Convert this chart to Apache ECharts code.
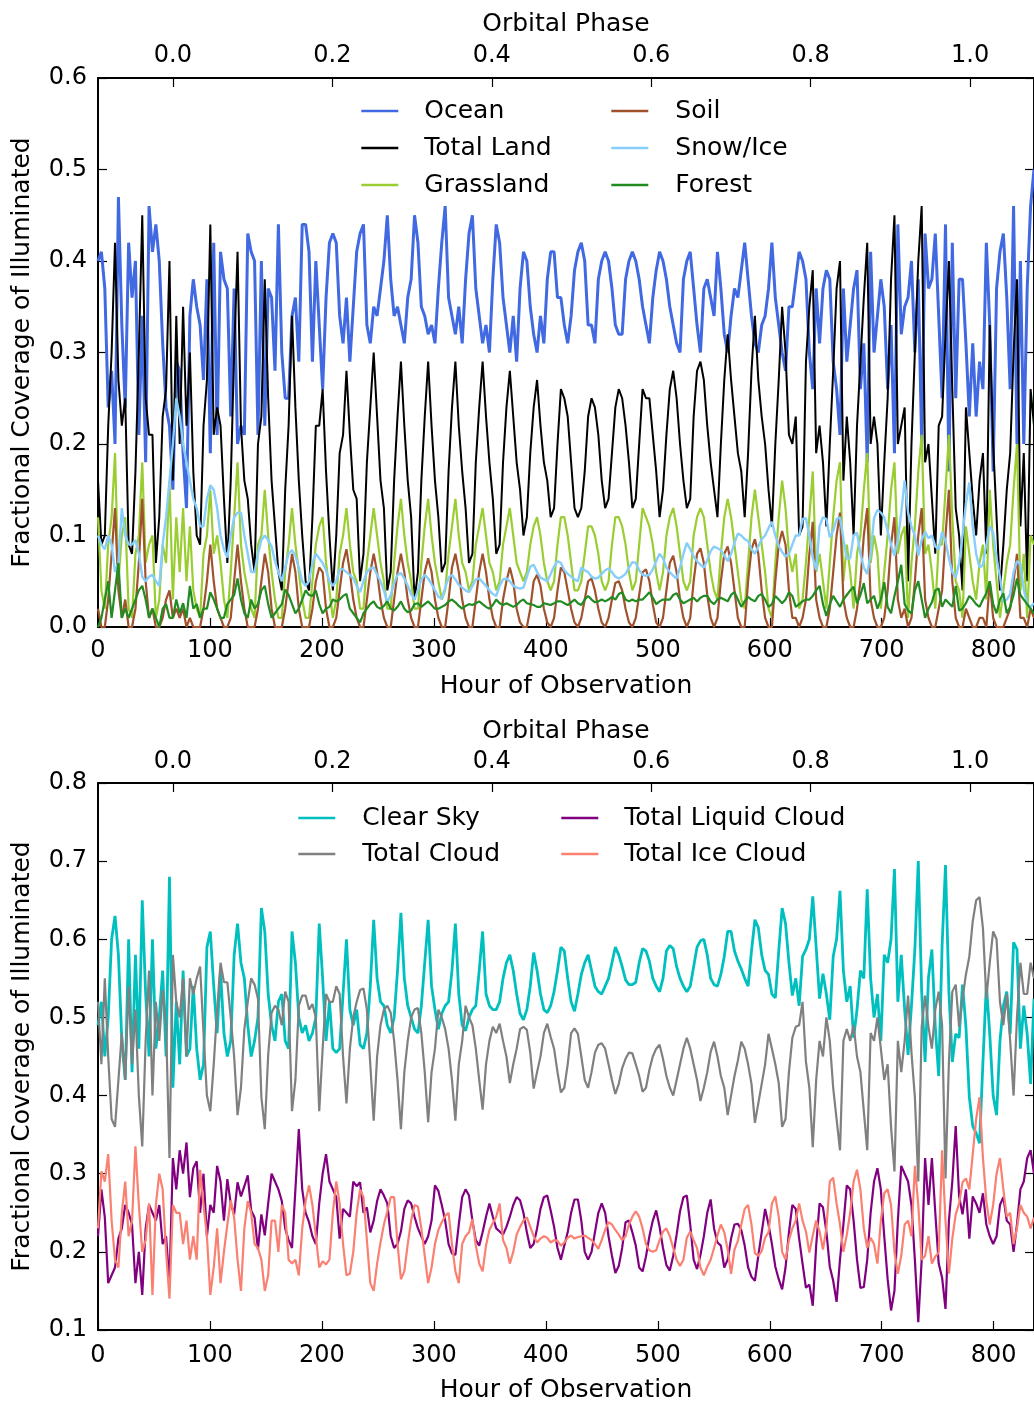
<!DOCTYPE html>
<html><head><meta charset="utf-8">
<script src="https://cdn.jsdelivr.net/npm/echarts@6/dist/echarts.min.js"></script>
<style>html,body{margin:0;padding:0;background:#fff}#c{width:1034px;height:1404px}</style>
</head><body><div id="c"></div>
<script>
// sampling step (hours) of the values
const HOUR_STEP = 3.04;
const hourTicks = [0,100,200,300,400,500,600,700,800];
const phaseTicks = [0,0.2,0.4,0.6,0.8,1.0];

// ---------- top panel (surface) ----------
const ocean = [
[0.40,0.41,0.37,0.24,0.28,0.20,0.47,0.33],[0.24,0.42,0.36,0.40,0.21,0.34,0.18,0.46],
[0.41,0.44,0.40,0.31,0.24,0.22,0.15,0.29],[0.28,0.19,0.13,0.34,0.38,0.35,0.33,0.27],
[0.38,0.19,0.42,0.21,0.41,0.38,0.37,0.23],[0.37,0.20,0.22,0.21,0.43,0.41,0.40,0.21],
[0.40,0.22,0.37,0.36,0.28,0.44,0.30,0.25],[0.25,0.34,0.36,0.29,0.44,0.44,0.41,0.29],
[0.40,0.33,0.26,0.36,0.42,0.43,0.42,0.34],[0.31,0.36,0.29,0.35,0.41,0.43,0.44,0.33],
[0.31,0.35,0.34,0.37,0.40,0.45,0.38,0.34],[0.35,0.33,0.31,0.36,0.38,0.45,0.42,0.35],
[0.34,0.32,0.33,0.31,0.37,0.42,0.46,0.36],[0.34,0.32,0.35,0.31,0.38,0.43,0.45,0.37],
[0.34,0.31,0.33,0.30,0.38,0.44,0.42,0.36],[0.33,0.30,0.34,0.29,0.37,0.41,0.40,0.35],
[0.32,0.30,0.34,0.31,0.38,0.41,0.41,0.36],[0.36,0.33,0.31,0.34,0.39,0.41,0.42,0.40],
[0.33,0.33,0.31,0.38,0.40,0.41,0.40,0.37],[0.33,0.32,0.32,0.38,0.40,0.41,0.40,0.38],
[0.35,0.33,0.31,0.36,0.39,0.41,0.40,0.38],[0.35,0.33,0.31,0.30,0.38,0.40,0.41,0.37],
[0.33,0.30,0.37,0.38,0.36,0.34,0.41,0.37],[0.32,0.30,0.34,0.37,0.36,0.39,0.42,0.38],
[0.34,0.31,0.30,0.33,0.34,0.37,0.42,0.36],[0.33,0.30,0.28,0.35,0.35,0.38,0.41,0.40],
[0.38,0.30,0.26,0.37,0.31,0.37,0.39,0.38],[0.29,0.26,0.21,0.37,0.29,0.33,0.37,0.39],
[0.26,0.31,0.18,0.41,0.30,0.34,0.38,0.35],[0.26,0.33,0.19,0.44,0.32,0.35,0.36,0.40],
[0.30,0.38,0.20,0.43,0.37,0.38,0.43,0.34],[0.25,0.44,0.17,0.42,0.25,0.38,0.38,0.31],
[0.23,0.31,0.23,0.29,0.26,0.42,0.33,0.17],[0.37,0.41,0.43,0.36,0.26,0.46,0.20,0.40],
[0.20,0.37,0.46,0.50]].flat();

const totalLand = [
[0.16,0.09,0.10,0.22,0.30,0.42,0.27,0.22],[0.25,0.09,0.08,0.17,0.30,0.45,0.25,0.21],
[0.21,0.07,0.12,0.23,0.26,0.40,0.16,0.34],[0.20,0.35,0.22,0.30,0.17,0.10,0.09,0.22],
[0.27,0.44,0.21,0.24,0.22,0.14,0.07,0.16],[0.30,0.41,0.22,0.16,0.14,0.09,0.06,0.20],
[0.23,0.38,0.25,0.16,0.11,0.06,0.04,0.15],[0.22,0.34,0.24,0.16,0.10,0.05,0.04,0.12],
[0.22,0.22,0.26,0.17,0.10,0.04,0.10,0.19],[0.21,0.28,0.21,0.15,0.14,0.05,0.08,0.18],
[0.24,0.30,0.23,0.16,0.13,0.04,0.06,0.16],[0.23,0.29,0.22,0.16,0.12,0.03,0.06,0.16],
[0.23,0.29,0.22,0.16,0.12,0.06,0.07,0.17],[0.24,0.29,0.22,0.17,0.13,0.07,0.08,0.18],
[0.24,0.29,0.23,0.18,0.14,0.08,0.09,0.18],[0.24,0.28,0.23,0.18,0.15,0.10,0.12,0.19],
[0.24,0.27,0.22,0.18,0.16,0.12,0.13,0.20],[0.26,0.25,0.23,0.18,0.13,0.12,0.13,0.17],
[0.23,0.25,0.24,0.21,0.16,0.13,0.14,0.19],[0.24,0.26,0.25,0.22,0.18,0.13,0.14,0.20],
[0.26,0.25,0.25,0.21,0.17,0.12,0.15,0.21],[0.26,0.28,0.25,0.20,0.16,0.13,0.14,0.23],
[0.28,0.29,0.27,0.22,0.18,0.15,0.12,0.20],[0.27,0.32,0.27,0.23,0.19,0.17,0.12,0.19],
[0.28,0.34,0.27,0.23,0.20,0.15,0.11,0.20],[0.27,0.35,0.30,0.21,0.20,0.23,0.10,0.11],
[0.29,0.35,0.39,0.19,0.22,0.18,0.11,0.20],[0.28,0.37,0.40,0.16,0.23,0.18,0.10,0.22],
[0.29,0.36,0.42,0.20,0.23,0.20,0.10,0.18],[0.25,0.38,0.45,0.20,0.22,0.24,0.05,0.20],
[0.30,0.40,0.46,0.18,0.20,0.14,0.08,0.22],[0.23,0.32,0.40,0.26,0.13,0.10,0.04,0.24],
[0.19,0.14,0.10,0.16,0.19,0.08,0.33,0.20],[0.12,0.04,0.09,0.15,0.19,0.30,0.38,0.11],
[0.19,0.05,0.26,0.22]].flat();

const grassland = [
[0.12,0.04,0.02,0.09,0.12,0.19,0.05,0.10],[0.12,0.02,0.01,0.08,0.10,0.18,0.07,0.09],
[0.10,0.01,0.03,0.09,0.07,0.16,0.03,0.12],[0.06,0.13,0.05,0.11,0.04,0.02,0.01,0.08],
[0.10,0.15,0.08,0.10,0.07,0.03,0.01,0.06],[0.12,0.18,0.09,0.06,0.04,0.02,0.01,0.09],
[0.10,0.15,0.10,0.06,0.03,0.01,0.01,0.06],[0.09,0.13,0.09,0.06,0.03,0.01,0.01,0.05],
[0.09,0.11,0.12,0.07,0.04,0.01,0.03,0.08],[0.10,0.13,0.09,0.06,0.05,0.02,0.02,0.07],
[0.10,0.13,0.10,0.07,0.05,0.02,0.02,0.07],[0.11,0.14,0.10,0.07,0.05,0.02,0.02,0.07],
[0.11,0.14,0.10,0.07,0.05,0.03,0.04,0.08],[0.11,0.14,0.10,0.07,0.06,0.04,0.05,0.09],
[0.11,0.13,0.10,0.07,0.06,0.04,0.05,0.09],[0.11,0.13,0.10,0.07,0.06,0.05,0.06,0.09],
[0.11,0.12,0.10,0.07,0.05,0.04,0.05,0.09],[0.12,0.12,0.10,0.07,0.04,0.04,0.05,0.08],
[0.11,0.11,0.10,0.08,0.05,0.04,0.05,0.09],[0.12,0.12,0.11,0.09,0.06,0.04,0.05,0.09],
[0.13,0.12,0.11,0.09,0.06,0.04,0.06,0.10],[0.12,0.13,0.11,0.08,0.05,0.04,0.05,0.10],
[0.12,0.13,0.12,0.09,0.06,0.04,0.03,0.08],[0.12,0.14,0.12,0.09,0.06,0.03,0.02,0.07],
[0.12,0.15,0.12,0.09,0.06,0.02,0.01,0.07],[0.12,0.16,0.13,0.08,0.06,0.08,0.02,0.03],
[0.07,0.12,0.17,0.06,0.08,0.05,0.02,0.07],[0.12,0.16,0.18,0.05,0.09,0.06,0.02,0.08],
[0.10,0.15,0.19,0.07,0.10,0.08,0.02,0.06],[0.10,0.15,0.18,0.08,0.10,0.11,0.01,0.07],
[0.11,0.17,0.21,0.08,0.09,0.06,0.02,0.09],[0.09,0.15,0.21,0.12,0.05,0.04,0.01,0.11],
[0.08,0.05,0.03,0.07,0.09,0.03,0.15,0.09],[0.05,0.01,0.04,0.07,0.09,0.15,0.20,0.04],
[0.08,0.01,0.10,0.09]].flat();

const soil = [
[0.02,0.00,0.00,0.03,0.08,0.13,0.04,0.01],[0.03,0.00,0.00,0.02,0.07,0.14,0.05,0.01],
[0.02,0.00,0.00,0.01,0.03,0.04,0.01,0.02],[0.01,0.02,0.00,0.01,0.00,0.00,0.00,0.02],
[0.05,0.09,0.05,0.02,0.01,0.00,0.00,0.01],[0.05,0.09,0.05,0.02,0.00,0.00,0.00,0.02],
[0.05,0.08,0.06,0.02,0.00,0.00,0.00,0.02],[0.05,0.08,0.06,0.02,0.00,0.00,0.00,0.02],
[0.05,0.065,0.06,0.02,0.00,0.00,0.01,0.04],[0.07,0.085,0.06,0.03,0.01,0.00,0.00,0.03],
[0.06,0.08,0.06,0.03,0.01,0.00,0.00,0.03],[0.06,0.08,0.06,0.03,0.01,0.00,0.00,0.03],
[0.06,0.075,0.06,0.03,0.01,0.00,0.00,0.03],[0.065,0.08,0.06,0.03,0.01,0.00,0.00,0.03],
[0.06,0.08,0.06,0.03,0.01,0.00,0.00,0.03],[0.05,0.065,0.05,0.02,0.005,0.00,0.00,0.02],
[0.05,0.057,0.045,0.02,0.005,0.00,0.01,0.04],[0.065,0.06,0.04,0.02,0.005,0.00,0.01,0.03],
[0.05,0.053,0.04,0.02,0.005,0.00,0.01,0.03],[0.048,0.05,0.04,0.02,0.005,0.00,0.01,0.035],
[0.06,0.063,0.05,0.025,0.005,0.00,0.01,0.04],[0.07,0.078,0.06,0.03,0.01,0.00,0.01,0.05],
[0.08,0.086,0.07,0.035,0.01,0.00,0.01,0.05],[0.08,0.088,0.07,0.04,0.01,0.00,0.00,0.05],
[0.085,0.096,0.08,0.04,0.01,0.00,0.00,0.05],[0.09,0.105,0.09,0.04,0.01,0.01,0.00,0.01],
[0.03,0.08,0.115,0.03,0.01,0.00,0.00,0.02],[0.06,0.10,0.125,0.03,0.01,0.00,0.00,0.02],
[0.05,0.10,0.13,0.03,0.01,0.00,0.00,0.01],[0.04,0.09,0.12,0.03,0.01,0.02,0.00,0.01],
[0.05,0.10,0.13,0.03,0.01,0.00,0.00,0.02],[0.04,0.10,0.15,0.05,0.01,0.00,0.00,0.02],
[0.01,0.00,0.00,0.01,0.01,0.00,0.05,0.01],[0.00,0.00,0.00,0.01,0.02,0.05,0.08,0.01],
[0.01,0.00,0.02,0.01]].flat();

const snowIce = [
[0.10,0.09,0.085,0.10,0.09,0.06,0.07,0.13],[0.10,0.09,0.09,0.095,0.08,0.055,0.05,0.055],
[0.057,0.05,0.045,0.09,0.12,0.16,0.20,0.25],[0.23,0.20,0.18,0.16,0.14,0.13,0.11,0.11],
[0.14,0.155,0.15,0.13,0.10,0.085,0.076,0.10],[0.12,0.125,0.125,0.10,0.08,0.06,0.06,0.08],
[0.095,0.10,0.095,0.088,0.072,0.06,0.05,0.065],[0.08,0.084,0.078,0.065,0.05,0.045,0.05,0.07],
[0.08,0.075,0.07,0.062,0.05,0.045,0.05,0.063],[0.063,0.06,0.057,0.053,0.045,0.038,0.05,0.06],
[0.064,0.065,0.057,0.05,0.04,0.027,0.035,0.048],[0.057,0.059,0.053,0.045,0.036,0.03,0.04,0.052],
[0.057,0.053,0.047,0.04,0.033,0.031,0.043,0.054],[0.057,0.052,0.046,0.043,0.04,0.038,0.045,0.052],
[0.053,0.049,0.045,0.04,0.036,0.034,0.045,0.052],[0.053,0.05,0.045,0.043,0.042,0.043,0.055,0.066],
[0.068,0.06,0.054,0.052,0.05,0.058,0.066,0.072],[0.07,0.062,0.058,0.055,0.052,0.05,0.065,0.062],
[0.06,0.055,0.053,0.054,0.058,0.062,0.064,0.06],[0.055,0.053,0.055,0.058,0.065,0.071,0.07,0.062],
[0.057,0.056,0.057,0.063,0.072,0.08,0.075,0.065],[0.06,0.056,0.053,0.065,0.08,0.092,0.085,0.077],
[0.072,0.068,0.065,0.073,0.083,0.088,0.086,0.084],[0.078,0.072,0.08,0.092,0.102,0.10,0.096,0.094],
[0.085,0.08,0.088,0.096,0.10,0.108,0.115,0.10],[0.088,0.082,0.077,0.08,0.09,0.10,0.10,0.118],
[0.119,0.10,0.076,0.062,0.11,0.12,0.118,0.098],[0.105,0.118,0.12,0.096,0.075,0.075,0.10,0.103],
[0.08,0.065,0.058,0.08,0.119,0.128,0.125,0.12],[0.105,0.09,0.078,0.095,0.125,0.16,0.125,0.11],
[0.10,0.078,0.095,0.104,0.097,0.10,0.088,0.085],[0.104,0.094,0.075,0.06,0.054,0.07,0.10,0.135],
[0.158,0.11,0.08,0.065,0.068,0.09,0.11,0.103],[0.075,0.055,0.028,0.03,0.036,0.06,0.072,0.069],
[0.041,0.025,0.022,0.026]].flat();

const forest = [
[0.00,0.01,0.03,0.05,0.01,0.04,0.07,0.01],[0.02,0.01,0.02,0.03,0.04,0.045,0.03,0.01],
[0.02,0.01,0.00,0.02,0.025,0.01,0.01,0.03],[0.015,0.026,0.01,0.045,0.02,0.025,0.01,0.02],
[0.02,0.038,0.03,0.02,0.01,0.01,0.025,0.03],[0.035,0.053,0.03,0.015,0.01,0.03,0.02,0.025],
[0.04,0.045,0.025,0.01,0.015,0.02,0.025,0.041],[0.035,0.025,0.015,0.02,0.03,0.04,0.035,0.034],
[0.04,0.025,0.015,0.02,0.022,0.03,0.028,0.03],[0.034,0.036,0.02,0.015,0.01,0.005,0.015,0.02],
[0.025,0.028,0.022,0.02,0.023,0.028,0.02,0.018],[0.022,0.028,0.02,0.016,0.018,0.025,0.026,0.022],
[0.025,0.028,0.024,0.02,0.02,0.022,0.024,0.028],[0.03,0.027,0.023,0.02,0.023,0.025,0.024,0.026],
[0.028,0.025,0.022,0.02,0.024,0.03,0.026,0.024],[0.026,0.024,0.022,0.024,0.028,0.03,0.026,0.025],
[0.024,0.022,0.022,0.026,0.025,0.024,0.026,0.028],[0.028,0.026,0.024,0.027,0.03,0.026,0.024,0.03],
[0.034,0.03,0.027,0.028,0.03,0.028,0.03,0.033],[0.03,0.036,0.038,0.03,0.028,0.03,0.028,0.03],
[0.03,0.034,0.038,0.032,0.025,0.028,0.03,0.03],[0.03,0.035,0.037,0.03,0.026,0.028,0.03,0.032],
[0.028,0.032,0.034,0.034,0.028,0.025,0.03,0.032],[0.03,0.028,0.035,0.038,0.03,0.022,0.028,0.033],
[0.03,0.028,0.034,0.036,0.03,0.022,0.025,0.034],[0.03,0.026,0.03,0.038,0.034,0.022,0.025,0.028],
[0.03,0.03,0.034,0.04,0.045,0.025,0.012,0.025],[0.034,0.028,0.022,0.03,0.035,0.04,0.044,0.026],
[0.035,0.048,0.026,0.03,0.034,0.02,0.03,0.049],[0.022,0.015,0.034,0.05,0.068,0.025,0.018,0.015],
[0.04,0.05,0.03,0.01,0.02,0.027,0.04,0.042],[0.022,0.03,0.026,0.022,0.045,0.018,0.02,0.026],
[0.034,0.03,0.025,0.022,0.03,0.037,0.05,0.025],[0.015,0.03,0.037,0.015,0.022,0.035,0.053,0.035],
[0.03,0.025,0.02,0.015]].flat();

// ---------- bottom panel (sky) ----------
const clearSky = [
[0.49,0.52,0.45,0.50,0.60,0.63,0.58,0.47],[0.42,0.60,0.43,0.58,0.46,0.65,0.53,0.45],
[0.60,0.46,0.50,0.56,0.45,0.68,0.41,0.52],[0.44,0.56,0.45,0.46,0.54,0.46,0.42,0.44],
[0.59,0.61,0.54,0.48,0.56,0.48,0.45,0.47],[0.58,0.62,0.57,0.55,0.49,0.45,0.47,0.50],
[0.64,0.61,0.53,0.49,0.47,0.52,0.53,0.47],[0.46,0.61,0.57,0.50,0.48,0.49,0.47,0.48],
[0.50,0.62,0.55,0.47,0.52,0.46,0.455,0.46],[0.53,0.60,0.51,0.49,0.51,0.465,0.46,0.48],
[0.54,0.625,0.55,0.52,0.515,0.49,0.48,0.50],[0.56,0.634,0.55,0.515,0.50,0.485,0.48,0.515],
[0.57,0.625,0.54,0.51,0.485,0.505,0.515,0.52],[0.56,0.62,0.53,0.49,0.483,0.50,0.51,0.515],
[0.56,0.61,0.53,0.515,0.51,0.51,0.52,0.55],[0.57,0.58,0.56,0.53,0.505,0.497,0.51,0.54],
[0.583,0.56,0.53,0.51,0.506,0.515,0.533,0.56],[0.59,0.585,0.55,0.52,0.508,0.53,0.555,0.57],
[0.58,0.56,0.54,0.533,0.53,0.54,0.55,0.57],[0.59,0.58,0.565,0.548,0.542,0.542,0.545,0.57],
[0.588,0.585,0.572,0.55,0.54,0.533,0.55,0.585],[0.592,0.588,0.565,0.55,0.54,0.533,0.54,0.565],
[0.59,0.598,0.60,0.58,0.55,0.542,0.54,0.555],[0.578,0.61,0.61,0.585,0.572,0.562,0.55,0.54],
[0.585,0.625,0.615,0.58,0.56,0.555,0.53,0.525],[0.585,0.64,0.62,0.57,0.528,0.55,0.515,0.578],
[0.587,0.60,0.655,0.59,0.524,0.556,0.53,0.497],[0.578,0.60,0.662,0.56,0.52,0.54,0.474,0.51],
[0.56,0.55,0.664,0.55,0.50,0.53,0.47,0.58],[0.57,0.60,0.69,0.52,0.58,0.51,0.452,0.515],
[0.587,0.70,0.533,0.443,0.551,0.587,0.488,0.425],[0.592,0.695,0.533,0.443,0.479,0.474,0.542,0.488],
[0.398,0.361,0.352,0.339,0.443,0.542,0.479,0.40],[0.375,0.47,0.515,0.533,0.479,0.596,0.587,0.46],
[0.515,0.479,0.415,0.524]].flat();

const totalCloud = [
[0.52,0.44,0.55,0.45,0.37,0.36,0.42,0.48],[0.42,0.54,0.44,0.51,0.40,0.335,0.47,0.56],
[0.40,0.52,0.47,0.535,0.49,0.32,0.58,0.52],[0.50,0.55,0.45,0.55,0.53,0.55,0.565,0.48],
[0.40,0.38,0.44,0.51,0.57,0.545,0.545,0.50],[0.45,0.375,0.41,0.485,0.52,0.55,0.542,0.524],
[0.398,0.357,0.452,0.506,0.515,0.51,0.49,0.533],[0.52,0.38,0.42,0.515,0.528,0.528,0.51,0.517],
[0.50,0.38,0.46,0.53,0.52,0.52,0.54,0.53],[0.45,0.39,0.46,0.50,0.52,0.535,0.537,0.51],
[0.44,0.368,0.45,0.49,0.51,0.515,0.506,0.47],[0.42,0.357,0.43,0.47,0.50,0.51,0.512,0.48],
[0.43,0.366,0.43,0.46,0.51,0.50,0.485,0.46],[0.42,0.368,0.44,0.47,0.515,0.50,0.49,0.46],
[0.42,0.382,0.44,0.47,0.488,0.48,0.492,0.47],[0.45,0.416,0.44,0.46,0.485,0.488,0.484,0.455],
[0.409,0.43,0.45,0.48,0.492,0.475,0.46,0.43],[0.404,0.41,0.44,0.48,0.486,0.479,0.45,0.42],
[0.41,0.43,0.455,0.465,0.467,0.46,0.44,0.42],[0.402,0.415,0.435,0.447,0.455,0.454,0.44,0.425],
[0.405,0.41,0.433,0.45,0.46,0.465,0.447,0.425],[0.41,0.40,0.42,0.44,0.46,0.474,0.46,0.44],
[0.42,0.393,0.41,0.43,0.456,0.469,0.45,0.425],[0.41,0.375,0.40,0.425,0.445,0.469,0.46,0.44],
[0.415,0.365,0.39,0.415,0.44,0.479,0.46,0.44],[0.416,0.36,0.37,0.43,0.474,0.488,0.49,0.52],
[0.443,0.41,0.334,0.42,0.47,0.45,0.50,0.47],[0.41,0.37,0.33,0.47,0.485,0.47,0.49,0.45],
[0.43,0.38,0.33,0.48,0.47,0.50,0.46,0.42],[0.44,0.36,0.303,0.47,0.43,0.47,0.528,0.455],
[0.398,0.29,0.488,0.528,0.488,0.46,0.51,0.533],[0.49,0.294,0.443,0.533,0.542,0.488,0.524,0.555],
[0.578,0.623,0.65,0.654,0.614,0.524,0.57,0.61],[0.60,0.52,0.49,0.53,0.47,0.40,0.50,0.57],
[0.53,0.53,0.57,0.55]].flat();

const liquidCloud = [
[0.22,0.28,0.244,0.16,0.17,0.18,0.217,0.23],[0.26,0.25,0.235,0.16,0.20,0.145,0.23,0.26],
[0.25,0.24,0.26,0.21,0.22,0.16,0.32,0.28],[0.33,0.30,0.34,0.27,0.307,0.316,0.25,0.30],
[0.22,0.26,0.25,0.31,0.29,0.24,0.293,0.262],[0.248,0.289,0.271,0.284,0.298,0.253,0.244,0.203],
[0.248,0.221,0.262,0.30,0.29,0.28,0.265,0.23],[0.215,0.205,0.28,0.357,0.28,0.25,0.238,0.22],
[0.21,0.262,0.30,0.325,0.29,0.28,0.27,0.217],[0.255,0.25,0.245,0.29,0.284,0.289,0.25,0.257],
[0.225,0.24,0.265,0.28,0.272,0.262,0.22,0.205],[0.21,0.226,0.255,0.266,0.262,0.245,0.23,0.22],
[0.21,0.22,0.24,0.285,0.278,0.26,0.24,0.21],[0.198,0.196,0.235,0.27,0.28,0.272,0.24,0.215],
[0.208,0.225,0.245,0.262,0.245,0.23,0.226,0.222],[0.232,0.245,0.26,0.27,0.266,0.25,0.225,0.205],
[0.21,0.23,0.255,0.27,0.272,0.253,0.232,0.205],[0.19,0.208,0.225,0.25,0.267,0.267,0.24,0.20],
[0.19,0.20,0.225,0.25,0.262,0.25,0.22,0.195],[0.173,0.182,0.205,0.238,0.24,0.225,0.208,0.18],
[0.175,0.194,0.22,0.24,0.253,0.232,0.205,0.183],[0.176,0.195,0.222,0.252,0.27,0.272,0.235,0.19],
[0.178,0.196,0.22,0.25,0.267,0.23,0.212,0.208],[0.18,0.19,0.217,0.235,0.236,0.228,0.208,0.18],
[0.168,0.163,0.195,0.225,0.255,0.235,0.21,0.181],[0.165,0.152,0.18,0.225,0.26,0.255,0.217,0.185],
[0.154,0.158,0.131,0.208,0.262,0.257,0.226,0.181],[0.163,0.136,0.19,0.235,0.285,0.28,0.24,0.19],
[0.154,0.155,0.19,0.25,0.29,0.307,0.28,0.22],[0.165,0.125,0.15,0.24,0.31,0.30,0.29,0.26],
[0.19,0.11,0.19,0.32,0.26,0.32,0.25,0.185],[0.167,0.127,0.24,0.29,0.361,0.271,0.248,0.28],
[0.217,0.271,0.262,0.25,0.275,0.235,0.22,0.21],[0.22,0.26,0.27,0.24,0.235,0.20,0.235,0.28],
[0.29,0.32,0.33,0.30]].flat();

const iceCloud = [
[0.23,0.303,0.29,0.325,0.24,0.19,0.18,0.25],[0.29,0.22,0.24,0.335,0.26,0.20,0.215,0.262],
[0.145,0.26,0.30,0.28,0.20,0.14,0.26,0.25],[0.25,0.21,0.24,0.19,0.22,0.19,0.305,0.26],
[0.22,0.145,0.18,0.23,0.16,0.20,0.235,0.266],[0.244,0.19,0.15,0.23,0.265,0.25,0.21,0.205],
[0.19,0.15,0.17,0.24,0.24,0.20,0.26,0.25],[0.19,0.185,0.19,0.17,0.23,0.265,0.285,0.26],
[0.22,0.18,0.188,0.184,0.19,0.25,0.29,0.262],[0.21,0.17,0.172,0.20,0.25,0.28,0.27,0.215],
[0.16,0.15,0.185,0.212,0.235,0.252,0.27,0.27],[0.21,0.165,0.175,0.21,0.24,0.26,0.258,0.23],
[0.195,0.16,0.18,0.21,0.228,0.238,0.246,0.25],[0.21,0.175,0.16,0.21,0.22,0.225,0.242,0.208],
[0.185,0.175,0.208,0.228,0.237,0.245,0.262,0.215],[0.205,0.185,0.20,0.222,0.232,0.24,0.244,0.232],
[0.22,0.212,0.217,0.22,0.218,0.212,0.215,0.214],[0.208,0.212,0.218,0.221,0.217,0.219,0.22,0.221],
[0.218,0.215,0.21,0.204,0.215,0.228,0.238,0.235],[0.228,0.222,0.215,0.22,0.235,0.245,0.252,0.245],
[0.23,0.21,0.202,0.20,0.202,0.215,0.226,0.23],[0.22,0.205,0.19,0.182,0.19,0.218,0.226,0.215],
[0.205,0.18,0.17,0.181,0.19,0.205,0.221,0.235],[0.225,0.203,0.172,0.203,0.214,0.235,0.255,0.26],
[0.235,0.198,0.195,0.201,0.218,0.225,0.262,0.271],[0.245,0.20,0.19,0.215,0.23,0.24,0.262,0.24],
[0.226,0.199,0.221,0.24,0.226,0.203,0.23,0.29],[0.295,0.262,0.235,0.20,0.222,0.25,0.29,0.305],
[0.28,0.23,0.205,0.218,0.21,0.185,0.24,0.275],[0.28,0.26,0.20,0.172,0.195,0.235,0.24,0.22],
[0.31,0.26,0.19,0.195,0.22,0.185,0.194,0.199],[0.33,0.24,0.172,0.217,0.248,0.262,0.289,0.294],
[0.28,0.325,0.37,0.398,0.32,0.265,0.235,0.26],[0.30,0.32,0.28,0.245,0.25,0.21,0.23,0.26],
[0.25,0.245,0.23,0.244]].flat();

// ---------- chart ----------
const FONT = 'DejaVu Sans';
const hours = ocean.map((_, i) => +(i * HOUR_STEP).toFixed(2));
const txt = (size) => ({ fontFamily: FONT, fontSize: size, color: '#000' });
const lineAxis = { show: true, onZero: false, lineStyle: { color: '#000', width: 2 } };
const tick = (vals) => ({ show: true, inside: true, length: 9, lineStyle: { color: '#000', width: 1.2 }, customValues: vals });

function mk(name, vals, color, width, g) {
  return {
    type: 'line', name, xAxisIndex: g * 2, yAxisIndex: g * 2,
    data: vals.map((v, i) => [hours[i], v]),
    symbol: 'none', showSymbol: false, silent: true, animation: false,
    lineStyle: { color, width }, itemStyle: { color }, emphasis: { disabled: true }
  };
}

function xAxes(g) {
  return [
    { gridIndex: g, type: 'value', position: 'bottom', min: 0, max: 836,
      name: 'Hour of Observation', nameLocation: 'middle', nameGap: g === 0 ? 47 : 48,
      nameTextStyle: Object.assign(txt(25), { lineHeight: 25 }),
      axisLine: lineAxis, axisTick: tick(hourTicks),
      axisLabel: Object.assign(txt(24), { customValues: hourTicks, margin: g === 0 ? 12 : 14, lineHeight: 24 }),
      splitLine: { show: false } },
    { gridIndex: g, type: 'value', position: 'top', min: -0.094, max: 1.0802,
      name: 'Orbital Phase', nameLocation: 'middle', nameGap: g === 0 ? 41 : 39,
      nameTextStyle: Object.assign(txt(25), { lineHeight: 25 }),
      axisLine: lineAxis, axisTick: tick(phaseTicks),
      axisLabel: Object.assign(txt(24), { customValues: phaseTicks, margin: g === 0 ? 10 : 9, lineHeight: 24,
        formatter: v => (+v).toFixed(1) }),
      splitLine: { show: false } }
  ];
}
function yAxes(g, mn, mx) {
  return [
    { gridIndex: g, type: 'value', position: 'left', min: mn, max: mx, interval: 0.1,
      name: 'Fractional Coverage of Illuminated', nameLocation: 'middle', nameGap: 63,
      nameTextStyle: Object.assign(txt(25), { lineHeight: 25 }),
      axisLine: lineAxis, axisTick: { show: true, inside: true, length: 9, lineStyle: { color: '#000', width: 1.2 } },
      axisLabel: Object.assign(txt(24), { margin: 11, formatter: v => (+v).toFixed(1) }),
      splitLine: { show: false } },
    { gridIndex: g, type: 'value', position: 'right', min: mn, max: mx, interval: 0.1,
      axisLine: lineAxis, axisTick: { show: true, inside: true, length: 9, lineStyle: { color: '#000', width: 1.2 } },
      axisLabel: { show: false }, splitLine: { show: false } }
  ];
}
function legend(names, left, top, gap, pad) {
  return { data: names, orient: 'vertical', left, top, itemWidth: 37, itemHeight: 25, itemGap: gap,
    padding: 0, selectedMode: false,
    itemStyle: { opacity: 0, borderWidth: 0 },
    lineStyle: { width: 2.6, opacity: 1 },
    textStyle: Object.assign(txt(25), { lineHeight: 25, padding: [0, 0, 0, pad] }) };
}

const chart = echarts.init(document.getElementById('c'), null, { renderer: 'canvas' });
chart.setOption({
  animation: false,
  backgroundColor: '#fff',
  grid: [
    { left: 98, top: 78, width: 937, height: 549 },
    { left: 98, top: 783, width: 937, height: 550 }
  ],
  xAxis: [...xAxes(0), ...xAxes(1)],
  yAxis: [...yAxes(0, 0, 0.6), ...yAxes(1, 0.1, 0.8)],
  legend: [
    legend(['Ocean', 'Total Land', 'Grassland'], 360, 98.5, 12, 21),
    legend(['Soil', 'Snow/Ice', 'Forest'], 610, 98.5, 12, 22),
    legend(['Clear Sky', 'Total Cloud'], 297, 805.5, 11, 22),
    legend(['Total Liquid Cloud', 'Total Ice Cloud'], 560, 805.5, 11, 21)
  ],
  series: [
    mk('Ocean', ocean, '#4169E1', 3, 0),
    mk('Total Land', totalLand, '#000000', 2, 0),
    mk('Grassland', grassland, '#9ACD32', 2.2, 0),
    mk('Soil', soil, '#A0522D', 2.2, 0),
    mk('Snow/Ice', snowIce, '#87CEFA', 2.4, 0),
    mk('Forest', forest, '#228B22', 2.2, 0),
    mk('Clear Sky', clearSky, '#00BFBF', 2.8, 1),
    mk('Total Cloud', totalCloud, '#808080', 2.2, 1),
    mk('Total Liquid Cloud', liquidCloud, '#800080', 2.2, 1),
    mk('Total Ice Cloud', iceCloud, '#FA8072', 2.2, 1)
  ]
});
</script>
</body></html>
